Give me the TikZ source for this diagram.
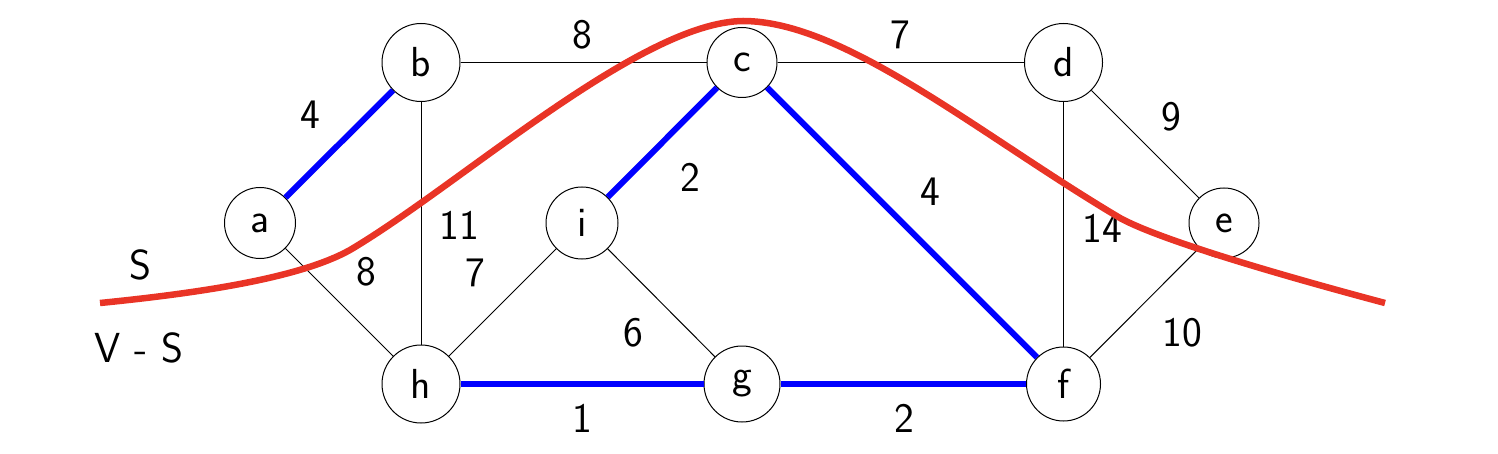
\documentclass[tikz,border=0pt]{standalone}
\usepackage{fontspec}
\begin{document}
\begin{tikzpicture}[x=1pt,y=-1pt,
  vtx/.style={circle,draw,line width=1.0pt,inner sep=0pt,fill=white,font=\sffamily\fontsize{42}{44}\selectfont},
  lbl/.style={font=\sffamily\fontsize{42}{44}\selectfont,inner sep=0pt},
  thinedge/.style={line width=1.0pt},
  tree/.style={line width=6pt,blue},
  cutline/.style={line width=6.5pt,cutred}]
\definecolor{cutred}{RGB}{233,52,38}
\useasboundingbox (0,0) rectangle (1498,454);
\node[vtx,minimum size=71pt] (a) at (260,223) {a};
\node[vtx,minimum size=78pt] (b) at (421,62.5) {b};
\node[vtx,minimum size=70pt] (c) at (742,62.5) {c};
\node[vtx,minimum size=78pt] (d) at (1063.5,62.5) {d};
\node[vtx,minimum size=70pt] (e) at (1224,223) {e};
\node[vtx,minimum size=72pt] (i) at (582,223) {i};
\node[vtx,minimum size=78pt] (h) at (421,384) {h};
\node[vtx,minimum size=76pt] (g) at (742,384) {g};
\node[vtx,minimum size=74pt] (f) at (1063.5,384) {f};
\draw[thinedge] (b) -- (c);
\draw[thinedge] (c) -- (d);
\draw[thinedge] (d) -- (e);
\draw[thinedge] (b) -- (h);
\draw[thinedge] (a) -- (h);
\draw[thinedge] (h) -- (i);
\draw[thinedge] (i) -- (g);
\draw[thinedge] (d) -- (f);
\draw[thinedge] (e) -- (f);
\draw[tree] (a) -- (b);
\draw[tree] (c) -- (i);
\draw[tree] (c) -- (f);
\draw[tree] (h) -- (g);
\draw[tree] (g) -- (f);
\node[lbl] (w1) at (310,115) {4};
\node[lbl] (w2) at (582,35) {8};
\node[lbl] (w3) at (900,35) {7};
\node[lbl] (w4) at (1171,117) {9};
\node[lbl] (w5) at (459,225) {11};
\node[lbl] (w6) at (366,272) {8};
\node[lbl] (w7) at (475,273) {7};
\node[lbl] (w8) at (690,177) {2};
\node[lbl] (w9) at (930,192) {4};
\node[lbl] (w10) at (1102,228) {14};
\node[lbl] (w11) at (1182,333) {10};
\node[lbl] (w12) at (633,333) {6};
\node[lbl] (w13) at (582,418) {1};
\node[lbl] (w14) at (904,418) {2};
\node[lbl] (s1) at (140,265) {S};
\node[lbl] (s2) at (139,348) {V\,\,-\,\,S};
\coordinate (p0) at (100,303);
\coordinate (p1) at (350,250);
\coordinate (p2) at (743,21);
\coordinate (p3) at (1120,218);
\coordinate (p4) at (1385,303);
\draw[cutline] (p0) .. controls (200,293) and (300,278) .. (p1)
  .. controls (460,185) and (640,22) .. (p2)
  .. controls (845,21) and (980,135) .. (p3)
  .. controls (1160,240) and (1280,275) .. (p4);
\end{tikzpicture}
\end{document}
